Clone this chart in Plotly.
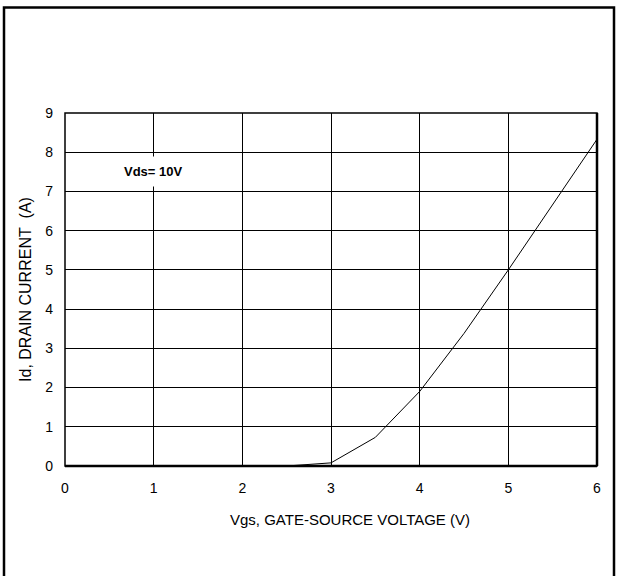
import plotly.graph_objects as go

# Transfer characteristic at Vds = 10 V
vgs = [0, 1, 2, 2.5, 3, 3.5, 4, 4.5, 5, 5.5, 6]
id_a = [0, 0, 0, 0, 0.08, 0.73, 1.9, 3.38, 5.0, 6.66, 8.33]

x_ticks = [0, 1, 2, 3, 4, 5, 6]
y_ticks = [0, 1, 2, 3, 4, 5, 6, 7, 8, 9]

W, H = 619, 576
L, R, T, B = 65, 22, 113, 110
pw, ph = W - L - R, H - T - B

def px_x(p):
    return (p - L) / pw

def px_y(p):
    return (H - B - p) / ph

font = "Liberation Sans, Arial, sans-serif"

fig = go.Figure()
fig.add_trace(go.Scatter(x=vgs, y=id_a, mode="lines",
                         line=dict(color="black", width=1), showlegend=False,
                         hoverinfo="skip"))

axis_common = dict(showgrid=True, gridcolor="black", gridwidth=1,
                   zeroline=False, showline=False, ticks="",
                   tickfont=dict(family=font, size=14, color="black"),
                   fixedrange=True)

fig.update_xaxes(range=[0, 6], tickvals=x_ticks, ticktext=[str(v) for v in x_ticks],
                 ticklabelstandoff=12, **axis_common)
fig.update_yaxes(range=[0, 9], tickvals=y_ticks, ticktext=[str(v) for v in y_ticks],
                 ticklabelstandoff=11,
                 title=dict(text="Id, DRAIN CURRENT&nbsp;&nbsp;(A)",
                            font=dict(family=font, size=16, color="black"), standoff=9),
                 **axis_common)

shapes = [
    # plot frame
    dict(type="rect", xref="paper", yref="paper", x0=0, x1=1, y0=0, y1=1,
         line=dict(color="black", width=1.5)),
    # heavier bottom and right edges
    dict(type="line", xref="paper", yref="paper", x0=0, x1=1, y0=0, y1=0,
         line=dict(color="black", width=2.5)),
    dict(type="line", xref="paper", yref="paper", x0=1, x1=1, y0=0, y1=1,
         line=dict(color="black", width=2.5)),
    # outer panel border
    dict(type="rect", xref="paper", yref="paper",
         x0=px_x(4), x1=px_x(614), y0=px_y(600), y1=px_y(7.5),
         line=dict(color="black", width=2.5)),
]

# x-axis caption
fig.add_annotation(x=px_x(350), y=px_y(519), xref="paper", yref="paper",
                   text="Vgs, GATE-SOURCE VOLTAGE (V)", showarrow=False,
                   xanchor="center", yanchor="middle",
                   font=dict(family=font, size=15, color="black"))

fig.add_annotation(x=1, y=7.52, xref="x", yref="y", text="<b>Vds= 10V</b>",
                   showarrow=False, font=dict(family=font, size=13, color="black"),
                   bgcolor="white", borderpad=7)

fig.update_layout(width=W, height=H, margin=dict(l=L, r=R, t=T, b=B),
                  paper_bgcolor="white", plot_bgcolor="white", shapes=shapes)

fig.write_html("out.html")
